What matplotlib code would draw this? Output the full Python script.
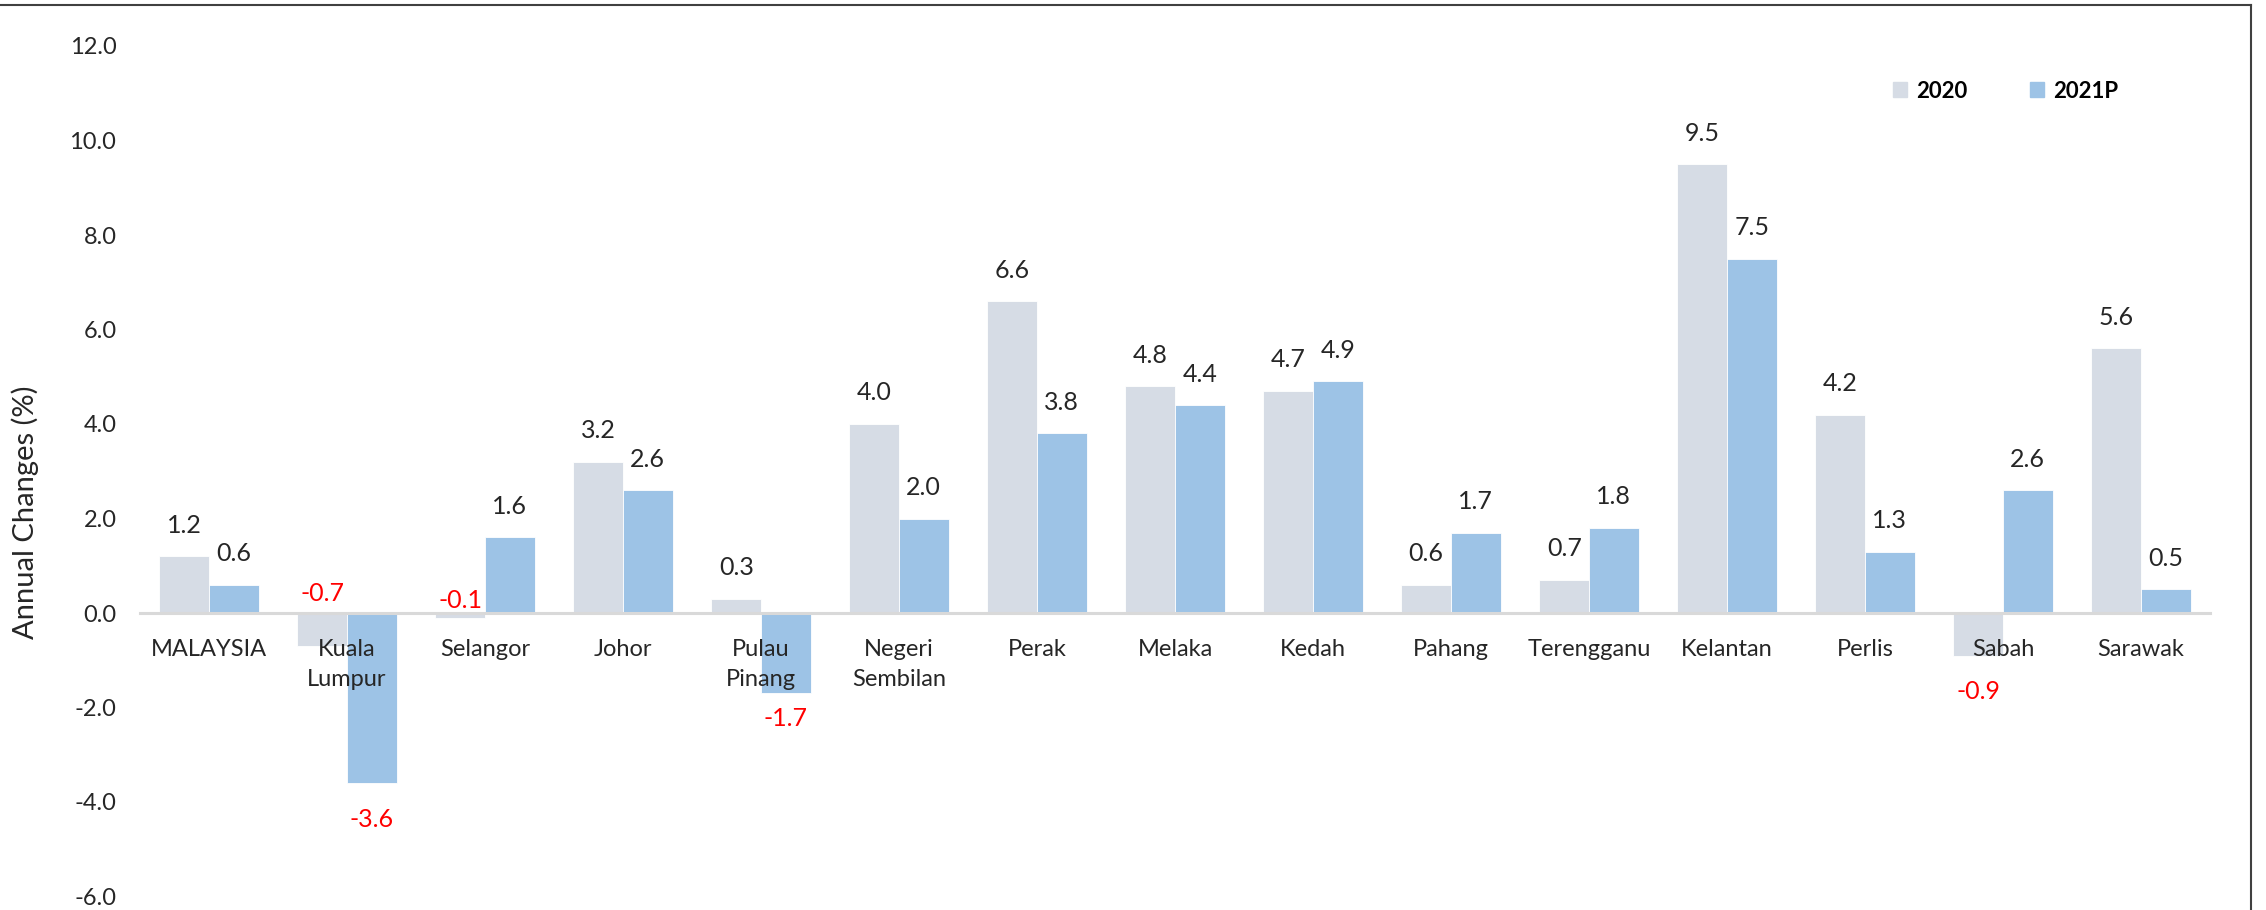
import numpy as np
import matplotlib
matplotlib.use('Agg')
import matplotlib.pyplot as plt
from matplotlib.patches import Patch
from matplotlib.lines import Line2D

# data
states = ['MALAYSIA', 'Kuala\nLumpur', 'Selangor', 'Johor', 'Pulau\nPinang',
          'Negeri\nSembilan', 'Perak', 'Melaka', 'Kedah', 'Pahang',
          'Terengganu', 'Kelantan', 'Perlis', 'Sabah', 'Sarawak']
y2020 = [1.2, -0.7, -0.1, 3.2, 0.3, 4.0, 6.6, 4.8, 4.7, 0.6, 0.7, 9.5, 4.2, -0.9, 5.6]
y2021 = [0.6, -3.6, 1.6, 2.6, -1.7, 2.0, 3.8, 4.4, 4.9, 1.7, 1.8, 7.5, 1.3, 2.6, 0.5]
series_names = ['2020', '2021P']
yticks = [-6, -4, -2, 0, 2, 4, 6, 8, 10, 12]

# style
c2020 = '#D6DCE5'
c2021 = '#9DC3E6'
txt = '#262626'
plt.rcParams['font.family'] = ['Lato', 'DejaVu Sans']

W, H = 2266, 910
fig = plt.figure(figsize=(W / 100, H / 100), dpi=100)
ax = fig.add_axes([140 / W, (H - 896.5) / H, 2070 / W, (896.5 - 46) / H])

x = np.arange(len(states))
bw = 0.359
b1 = ax.bar(x - bw / 2, y2020, bw, color=c2020, edgecolor='white', linewidth=0.6, zorder=1)
b2 = ax.bar(x + bw / 2, y2021, bw, color=c2021, edgecolor='white', linewidth=0.6, zorder=1)

ax.set_xlim(-0.5, len(states) - 0.5)
ax.set_ylim(-6, 12)
ax.set_yticks(yticks)
ax.set_yticklabels(['%.1f' % v for v in yticks])
ax.tick_params(axis='y', length=0, pad=17, labelsize=17, labelcolor=txt)
ax.set_xticks([])

# category labels sit just under the zero line
for xi, name in zip(x, states):
    ax.annotate(name, (xi, 0), xytext=(0, -19), textcoords='offset points',
                ha='center', va='top', fontsize=17, color=txt, linespacing=1.5)

for s in ['top', 'right', 'left']:
    ax.spines[s].set_visible(False)
ax.spines['bottom'].set_position(('data', 0))
ax.spines['bottom'].set_color('#D9D9D9')
ax.spines['bottom'].set_linewidth(2.2)

# data labels; offsets (pixels) for the negative ones that were moved by hand
neg_dy = {(1, 0): -53, (2, 0): -17, (1, 1): 36, (4, 1): 25, (13, 0): 36}
for k, bars in enumerate([b1, b2]):
    vals = [y2020, y2021][k]
    for i, (bar, v) in enumerate(zip(bars, vals)):
        cx = bar.get_x() + bar.get_width() / 2
        if v >= 0:
            dy = -31
            col = txt
        else:
            dy = neg_dy.get((i, k), 30)
            col = '#FF0000'
        ax.annotate('%.1f' % v, (cx, v), xytext=(0, -dy * 0.72),
                    textcoords='offset points', ha='center', va='center',
                    fontsize=18, color=col)

fig.text(25 / W, 1 - 512 / H, 'Annual Changes (%)', rotation=90,
         ha='center', va='center', fontsize=21, color=txt)

handles = [Patch(color=c2020), Patch(color=c2021)]
fig.legend(handles, series_names, loc='center left',
           bbox_to_anchor=(1893 / W, 1 - 91 / H), ncol=2, frameon=False,
           prop={'weight': 'bold', 'size': 16}, handlelength=0.64,
           handleheight=0.64, handletextpad=0.4, columnspacing=2.8,
           borderpad=0, borderaxespad=0)

# chart frame (top and right edges visible in the crop)
fig.add_artist(Line2D([0, 2251 / W], [1 - 5 / H, 1 - 5 / H], color='#404040', lw=1.5))
fig.add_artist(Line2D([2251 / W, 2251 / W], [0, 1 - 5 / H], color='#404040', lw=1.5))

fig.savefig('out.png', dpi=100)
